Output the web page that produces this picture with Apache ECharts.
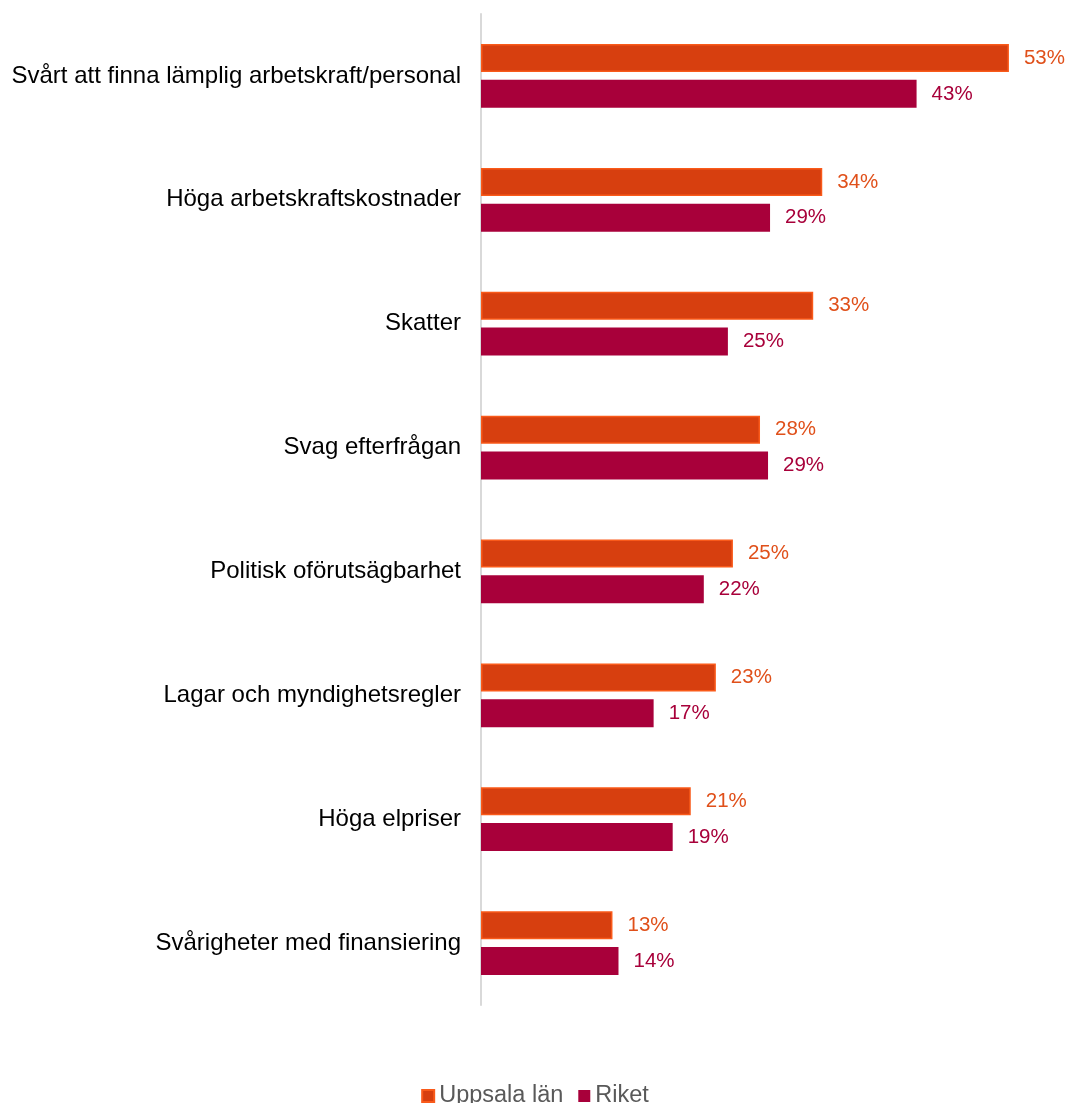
<!DOCTYPE html>
<html><head><meta charset="utf-8">
<script src="https://cdn.jsdelivr.net/npm/echarts@6/dist/echarts.min.js"></script>
<style>html,body{margin:0;padding:0;background:#fff}#c{width:1070px;height:1103px}</style>
</head><body><div id="c"></div>
<script>
const categories = ["Svårt att finna lämplig arbetskraft/personal","Höga arbetskraftskostnader","Skatter","Svag efterfrågan","Politisk oförutsägbarhet","Lagar och myndighetsregler","Höga elpriser","Svårigheter med finansiering"];
const uppsala = [52.6, 34.0, 33.1, 27.8, 25.1, 23.4, 20.9, 13.1];
const riket = [43.4, 28.8, 24.6, 28.6, 22.2, 17.2, 19.1, 13.7];
const seriesNames = ["Uppsala län", "Riket"];

const chart = echarts.init(document.getElementById('c'), null, {renderer:'canvas'});
const fmt = p => Math.round(p.value) + '%';
const FF = 'Liberation Sans, Arial, sans-serif';
chart.setOption({
  animation:false,
  textStyle:{fontFamily:FF},
  grid:{left:481, top:14, width:552, height:991, containLabel:false},
  xAxis:{type:'value', min:0, max:55, show:false},
  yAxis:{type:'category', data:categories, inverse:true,
    axisLine:{show:true, lineStyle:{color:'#d9d9d9', width:2}},
    axisTick:{show:false},
    axisLabel:{fontSize:24, color:'#000', margin:20, fontFamily:FF, padding:[6,0,0,0]}},
  legend:{top:1079, left:'center', itemWidth:12, itemHeight:12, itemGap:15,
    icon:'rect',
    textStyle:{fontSize:23.5, color:'#595959', fontFamily:FF},
    data:seriesNames},
  series:[
    {name:seriesNames[0], type:'bar', data:uppsala, barWidth:28, barGap:'28%',
      itemStyle:{color:'#D73F0F', borderColor:'#F95A1A', borderWidth:1.5},
      label:{show:true, position:'right', distance:15, formatter:fmt, fontSize:20.5, color:'#E0501A', fontFamily:FF}},
    {name:seriesNames[1], type:'bar', data:riket, barWidth:28,
      itemStyle:{color:'#A8003A'},
      label:{show:true, position:'right', distance:15, formatter:fmt, fontSize:20.5, color:'#A8003A', fontFamily:FF}}
  ]
});
</script></body></html>
